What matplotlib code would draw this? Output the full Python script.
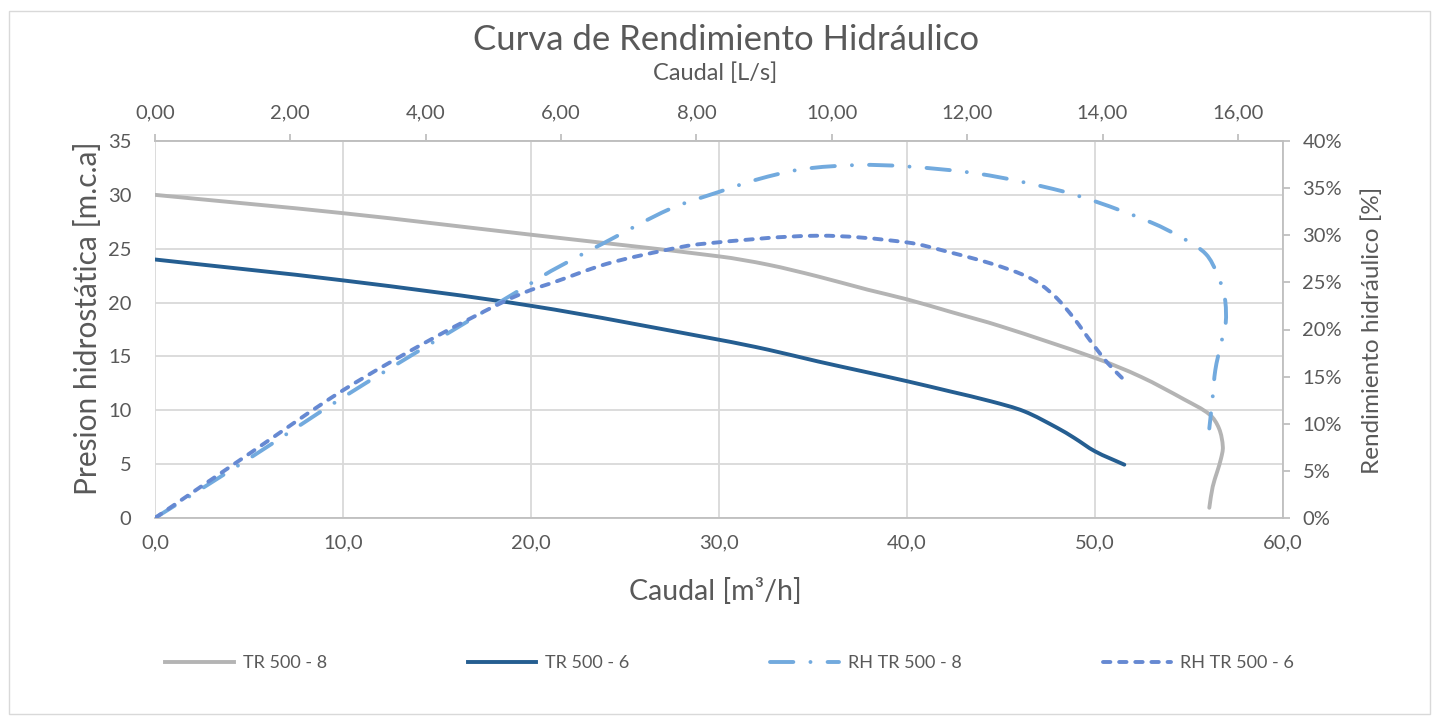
import numpy as np
import matplotlib
matplotlib.use('Agg')
import matplotlib.pyplot as plt
from matplotlib.ticker import FuncFormatter, MultipleLocator
from matplotlib.patches import Rectangle, PathPatch
from matplotlib.path import Path
from matplotlib.lines import Line2D

plt.rcParams['font.family'] = ['Lato', 'DejaVu Sans']

# pump curve TR 500 - 8: flow [m3/h] vs head [m.c.a]
q_tr8 = [0, 10, 20, 30, 32.6, 35.25, 37.9, 40, 42.3, 45, 50, 52.45, 54.75, 56.1, 56.6, 56.8, 56.7,
         56.5, 56.26, 56.08]
h_tr8 = [30, 28.3, 26.3, 24.29, 23.52, 22.43, 21.2, 20.3, 19.15, 17.79, 14.86, 13.1, 11.0, 9.6, 8.3,
         6.6, 5.5, 4.3, 2.9, 0.95]

# pump curve TR 500 - 6
q_tr6 = [0, 10, 20, 30, 32.6, 35.25, 37.9, 40, 42.3, 44.47, 46.24, 48, 48.9, 50, 51.56]
h_tr6 = [24, 22.06, 19.7, 16.55, 15.63, 14.54, 13.52, 12.7, 11.75, 10.83, 9.9, 8.36, 7.43, 6.19, 4.95]

# hydraulic efficiency [%]
q_rh8 = [0, 5, 10, 15, 20, 21.06, 23.9, 27.4, 30, 32, 34.4, 37.4, 40, 43.9, 47.8, 50, 53,
         54.75, 55.9, 56.5, 56.9, 56.95, 56.7, 56.4, 56.26, 56.08]
e_rh8 = [0, 6.3, 12.8, 18.9, 24.9, 26.2, 29.2, 32.8, 34.6, 35.9, 37.0, 37.45, 37.3, 36.5, 34.9, 33.6, 31.35,
         29.6, 28.0, 25.9, 23.4, 20.6, 18.5, 15.7, 12.85, 9.5]

q_rh6 = [0, 5, 10, 15, 18.6, 20, 21.06, 24, 27.1, 29.04, 35.25, 40, 42.3, 44.47, 46.24, 47.13, 48,
         48.9, 49.8, 50.7, 51.47]
e_rh6 = [0, 6.8, 13.55, 19.3, 23.0, 24.2, 24.9, 26.95, 28.4, 29.07, 29.95, 29.24, 28.18, 27.0, 25.75,
         24.75, 23.26, 21.14, 18.67, 16.38, 14.8]

W, H = 1438, 722
txt = '#595959'
axc = '#BFBFBF'
grid = '#D9D9D9'


def smooth_path(x, y, sx, sy):
    # smoothed line like Excel: cubic bezier through the points, tangents from
    # neighbours, scaled by the on-screen chord length (sx, sy = px per unit)
    p = np.column_stack([x, y]).astype(float)
    n = len(p)
    d = np.hypot(np.diff(p[:, 0]) * sx, np.diff(p[:, 1]) * sy)
    t = np.concatenate([[0], np.cumsum(d)])
    m = np.zeros_like(p)
    m[0] = (p[1] - p[0]) / d[0]
    m[-1] = (p[-1] - p[-2]) / d[-1]
    for i in range(1, n - 1):
        m[i] = (p[i + 1] - p[i - 1]) / (t[i + 1] - t[i - 1])
    verts = [p[0]]
    codes = [Path.MOVETO]
    for i in range(n - 1):
        verts += [p[i] + m[i] * d[i] / 3, p[i + 1] - m[i + 1] * d[i] / 3, p[i + 1]]
        codes += [Path.CURVE4] * 3
    return Path(verts, codes)


def add_curve(axis, x, y, sy, color, dashes=None, label=''):
    ls = '-' if dashes is None else (0, dashes)
    axis.add_patch(PathPatch(smooth_path(x, y, 1128 / 60, sy), fill=False, edgecolor=color, lw=2.8,
                             linestyle=ls, capstyle='round', joinstyle='round'))
    # proxy for the legend
    if dashes is None:
        return Line2D([], [], color=color, lw=2.8, label=label)
    return Line2D([], [], color=color, lw=2.8, dashes=dashes, dash_capstyle='round', label=label)


fig = plt.figure(figsize=(W / 100, H / 100), dpi=100)
fig.patches.append(Rectangle((9 / W, 1 - 714 / H), 1421 / W, 703 / H, transform=fig.transFigure,
                             fill=False, edgecolor=grid, lw=1))

ax = fig.add_axes([155 / W, 1 - 518 / H, 1128 / W, 377 / H])
ax.set_xlim(0, 60)
ax.set_ylim(0, 35)
ax.xaxis.set_major_locator(MultipleLocator(10))
ax.yaxis.set_major_locator(MultipleLocator(5))
ax.grid(True, color=grid, lw=1.3)
ax.set_axisbelow(True)
ax.xaxis.set_major_formatter(FuncFormatter(lambda v, p: ('%.1f' % v).replace('.', ',')))
ax.tick_params(axis='both', length=0, labelsize=14.5, labelcolor=txt)
ax.tick_params(axis='y', pad=17)
ax.tick_params(axis='x', pad=12)
ax.spines['left'].set_visible(False)
ax.spines['right'].set_visible(False)
for s in ['bottom', 'top']:
    ax.spines[s].set_color(axc)
    ax.spines[s].set_linewidth(1.3)

# right axis: efficiency
ax2 = ax.twinx()
ax2.set_ylim(0, 40)
ax2.yaxis.set_major_locator(MultipleLocator(5))
ax2.yaxis.set_major_formatter(FuncFormatter(lambda v, p: '%d%%' % round(v)))
ax2.tick_params(axis='y', length=5, width=1.3, color=axc, pad=9, labelsize=14.5, labelcolor=txt)
for s in ['left', 'top', 'bottom']:
    ax2.spines[s].set_visible(False)
ax2.spines['right'].set_color(axc)
ax2.spines['right'].set_linewidth(1.3)

# top axis: flow in L/s
secx = ax.secondary_xaxis('top', functions=(lambda q: q / 3.6, lambda l: l * 3.6))
secx.set_xticks(np.arange(0, 17, 2))
secx.xaxis.set_major_formatter(FuncFormatter(lambda v, p: ('%.2f' % v).replace('.', ',')))
secx.tick_params(length=5, width=1.3, color=axc, pad=9, labelsize=14.5, labelcolor=txt)
secx.spines['top'].set_color(axc)
secx.spines['top'].set_linewidth(1.3)

l1 = add_curve(ax, q_tr8, h_tr8, 377 / 35, '#B4B4B4', label='TR 500 - 8')
l2 = add_curve(ax, q_tr6, h_tr6, 377 / 35, '#255E91', label='TR 500 - 6')
l3 = add_curve(ax2, q_rh8, e_rh8, 377 / 40, '#72AADE', dashes=(6, 4.4, 0.01, 4.4), label='RH TR 500 - 8')
l4 = add_curve(ax2, q_rh6, e_rh6, 377 / 40, '#6689D2', dashes=(1.9, 2.25), label='RH TR 500 - 6')

fig.legend(handles=[l1, l2, l3, l4], loc='center left', bbox_to_anchor=(165 / W, 1 - 663 / H),
           ncol=4, frameon=False, fontsize=13, handlelength=3.8, handletextpad=0.5,
           columnspacing=7.8, borderpad=0, borderaxespad=0, labelcolor=txt)

fig.text(726 / W, 1 - 40 / H, 'Curva de Rendimiento Hidráulico', ha='center', va='center',
         fontsize=25, color=txt)
fig.text(715 / W, 1 - 73 / H, 'Caudal [L/s]', ha='center', va='center', fontsize=17, color=txt)
fig.text(715 / W, 1 - 592 / H, 'Caudal [m³/h]', ha='center', va='center', fontsize=20.5, color=txt)
fig.text(88 / W, 1 - 318 / H, 'Presion hidrostática [m.c.a]', ha='center', va='center',
         rotation=90, fontsize=21.5, color=txt)
fig.text(1372 / W, 1 - 330 / H, 'Rendimiento hidráulico [%]', ha='center', va='center',
         rotation=90, fontsize=17.5, color=txt)

fig.savefig('out.png', dpi=100)
plt.close(fig)
